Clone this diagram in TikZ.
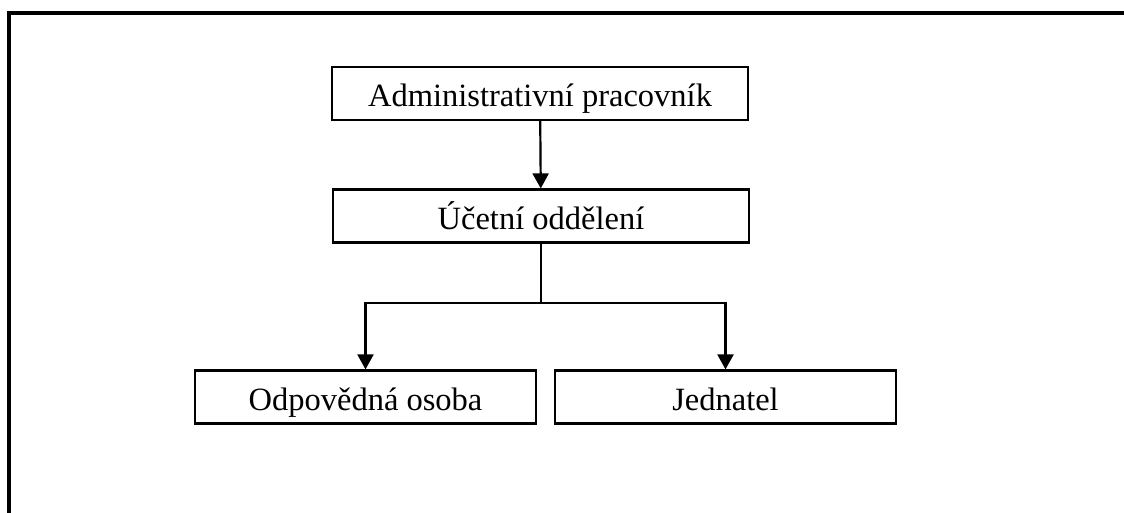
\documentclass[tikz,border=0pt]{standalone}
\usepackage{fontspec}
\setmainfont{Liberation Serif}
\usetikzlibrary{positioning}
\usetikzlibrary{arrows.meta}

\tikzset{
	box/.style={draw, line width=2.2pt, inner xsep=0pt, inner ysep=0pt, text height=40pt, text depth=13pt, font=\fontsize{32.5}{38}\selectfont},
	link/.style={line width=2.2pt, -{Triangle[length=15pt,width=16pt]}}
}

\begin{document}
\begin{tikzpicture}[x=1pt,y=-1pt]
			\useasboundingbox (0,0) rectangle (1124,513);
			% open frame round the chart
			\draw[line width=3.4pt] (9,513) -- (9,13) -- (1124,13);

			% boxes
			\node[box, minimum width=416pt] (admin) at (540,93.5) {Administrativní pracovník};
			\node[box, minimum width=416pt] (ucet) at (541,216) {Účetní oddělení};
			\node[box, minimum width=341pt] (odp) at (365.5,397) {Odpovědná osoba};
			\node[box, minimum width=341pt] (jed) at (725.5,397) {Jednatel};

			\coordinate (split) at (541,303);

			\draw[link] (admin) -- (ucet);
			\draw[line width=2.2pt] (ucet) -- (split);
			\draw[link] (split) -| (odp);
			\draw[link] (split) -| (jed);
		\end{tikzpicture}
\end{document}
